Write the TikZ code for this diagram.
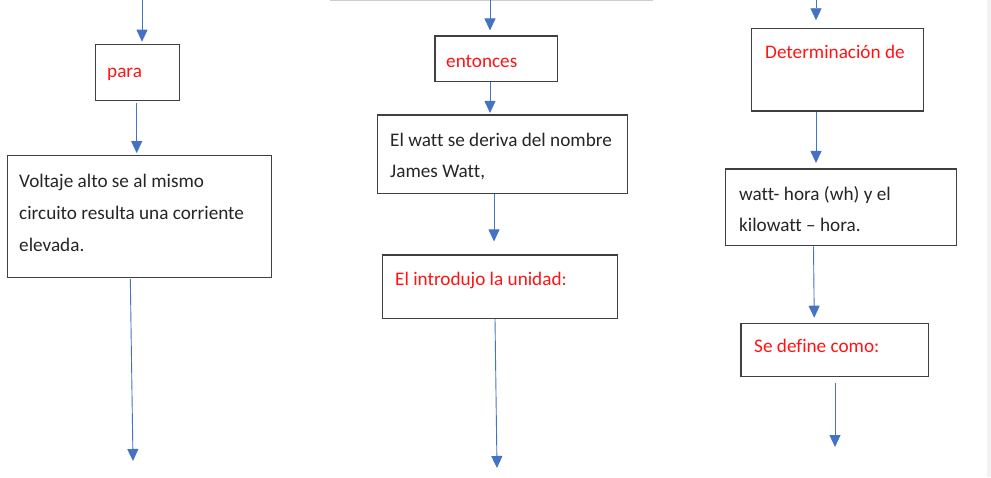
\documentclass[tikz,border=0pt]{standalone}
\usepackage{fontspec}
\setmainfont{Carlito}[Ligatures=NoCommon]
\usetikzlibrary{arrows.meta}
\definecolor{arrowblue}{RGB}{68,114,196}
\definecolor{boxgray}{RGB}{64,64,64}
\definecolor{textred}{RGB}{255,20,20}
\begin{document}
\begin{tikzpicture}[x=1pt, y=-1pt,
    box/.style={draw=boxgray, line width=1.2pt, inner sep=0pt},
    arr/.style={arrowblue, line width=0.9pt, -{Triangle[width=11pt,length=12pt]}},
    txt/.style={anchor=base west, inner sep=0pt, align=left, text=black!85,
        font=\fontsize{19.2}{31}\selectfont},
    rtxt/.style={txt, text=textred}]
    % Frame
    \useasboundingbox (0,0) rectangle (991,477);
    \fill[white] (0,0) rectangle (991,477);
    \fill[black!5] (987,0) rectangle (991,477);
    \draw[black!20, line width=1pt] (330,0) -- (653,0);

    % Free ends of the arrows
    \coordinate (top1) at (142,0);
    \coordinate (top2) at (490,0);
    \coordinate (top3) at (816,0);
    \coordinate (end1) at (133,461);
    \coordinate (end2) at (497,468);
    \coordinate (end3) at (835,447);

    % Left column (multi-line texts sit on their last baseline)
    \node[box, minimum width=83.6, minimum height=56.4] (para) at (137.5,72.5) {};
    \node[rtxt] (para-t) at (107,77) {para};
    \node[box, minimum width=264.4, minimum height=121.6] (volt) at (139.5,216.5) {};
    \node[txt, font=\fontsize{19.2}{32.2}\selectfont] (volt-t) at (19,251.5)
        {Voltaje alto se al mismo\\circuito resulta una corriente\\elevada.};

    % Middle column
    \node[box, minimum width=122.3, minimum height=45.7] (ent) at (496.2,58.9) {};
    \node[rtxt] (ent-t) at (446,67) {entonces};
    \node[box, minimum width=249.6, minimum height=78.3] (watt) at (502.5,154.2) {};
    \node[txt] (watt-t) at (390,177) {El watt se deriva del nombre\\James Watt,};
    \node[box, minimum width=235, minimum height=63.3] (intro) at (500.2,286.7) {};
    \node[rtxt] (intro-t) at (395,285) {El introdujo la unidad:};

    % Right column
    \node[box, minimum width=172, minimum height=82.7] (det) at (837.3,69.7) {};
    \node[rtxt] (det-t) at (765,58) {Determinación de};
    \node[box, minimum width=231, minimum height=76.7] (wh) at (840.8,207.4) {};
    \node[txt, font=\fontsize{19.2}{30.4}\selectfont] (wh-t) at (739,231)
        {watt- hora (wh) y el\\kilowatt – hora.};
    \node[box, minimum width=187.7, minimum height=53.4] (def) at (834.85,350) {};
    \node[rtxt] (def-t) at (754,352.7) {Se define como:};

    % Arrows
    \draw[arr, shorten >=2pt] (top1) -- (top1 |- para.north);
    \draw[arr, shorten <=2pt, shorten >=2pt] ([xshift=-0.8]para.south) -- ([xshift=-0.8]para.south |- volt.north);
    \draw[arr, shorten <=1pt] ([xshift=-9.2]volt.south) -- (end1);

    \draw[arr, shorten >=5pt] (top2) -- (top2 |- ent.north);
    \draw[arr, shorten >=1.5pt] (top2 |- ent.south) -- (top2 |- watt.north);
    \draw[arr, shorten >=13pt] ([xshift=-8.5]watt.south) -- ([xshift=-8.5]watt.south |- intro.north);
    \draw[arr] ([xshift=-5.2]intro.south) -- (end2);

    \draw[arr, shorten >=7.5pt] (top3) -- (top3 |- det.north);
    \draw[arr, shorten >=5.5pt] (top3 |- det.south) -- (top3 |- wh.north);
    \draw[arr, shorten >=5pt] ([xshift=-27.3]wh.south) -- ([xshift=-26.5]wh.south |- def.north);
    \draw[arr, shorten <=5.5pt] (end3 |- def.south) -- (end3);
\end{tikzpicture}
\end{document}
